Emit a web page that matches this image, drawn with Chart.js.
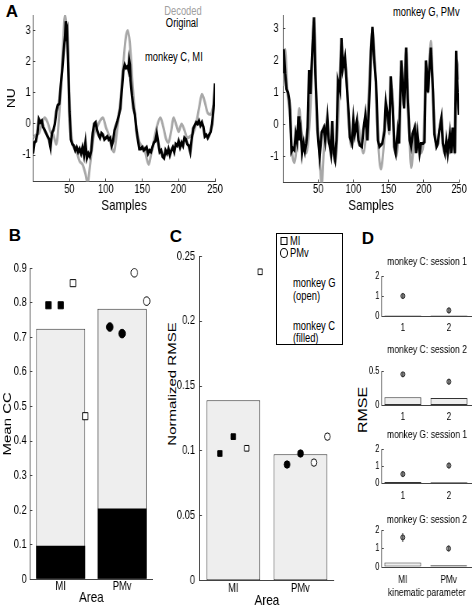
<!DOCTYPE html>
<html>
<head>
<meta charset="utf-8">
<title>Decoding performance</title>
<script src="https://cdn.jsdelivr.net/npm/chart.js@4.4.1/dist/chart.umd.min.js"></script>
<style>
  body { margin: 0; background: #fff; }
  #fig { position: relative; width: 476px; height: 612px; overflow: hidden;
         font-family: 'Liberation Sans', Arial, sans-serif; color: #000; }
  #fig canvas { position: absolute; }
  /* the whole figure is set in a horizontally condensed face, like the original */
  .lbl { position: absolute; white-space: nowrap; line-height: 1; font-size: 12px;
         transform: translate(-50%, -50%) scaleX(0.78); }
  .lft { transform-origin: 0 50%; transform: translate(0, -50%) scaleX(0.78); }
  .letter { position: absolute; font-weight: bold; font-size: 17px; line-height: 1; transform: translate(-50%, -50%); }
  #legendC { position: absolute; left: 276px; top: 233px; width: 67px; height: 112px;
             border: 1px solid #000; box-sizing: border-box; }
  .sq { position: absolute; width: 5px; height: 6px; border: 1px solid #000; transform: translate(-50%, -50%); }
  .ci { position: absolute; width: 6px; height: 8px; border: 1px solid #000; border-radius: 50%; transform: translate(-50%, -50%); }
</style>
</head>
<body>
<div id="fig">
  <div class="letter" style="left:12px;top:11px">A</div>
  <div class="letter" style="left:15px;top:235px">B</div>
  <div class="letter" style="left:176px;top:236px">C</div>
  <div class="letter" style="left:368px;top:238px">D</div>

  <div class="lbl" style="left:183px;top:11px;color:#a0a0a0">Decoded</div>
  <div class="lbl" style="left:182px;top:23px">Original</div>
  <div class="lbl lft" style="left:145px;top:57px">monkey C, MI</div>
  <div class="lbl lft" style="left:393px;top:12px">monkey G, PMv</div>

  <div id="legendC">
    <div class="sq" style="left:7px;top:7px"></div>
    <div class="lbl lft" style="left:13px;top:7px">MI</div>
    <div class="ci" style="left:7px;top:19px"></div>
    <div class="lbl lft" style="left:13px;top:19px">PMv</div>
    <div class="lbl lft" style="left:16px;top:49px">monkey G</div>
    <div class="lbl lft" style="left:16px;top:62px">(open)</div>
    <div class="lbl lft" style="left:16px;top:92px">monkey C</div>
    <div class="lbl lft" style="left:16px;top:104px">(filled)</div>
  </div>

  <div class="lbl" style="left:172px;top:384px;font-size:15px;transform:translate(-50%,-50%) scaleX(0.78) rotate(-90deg)">Normalized RMSE</div>
  <div class="lbl" style="left:363px;top:410px;font-size:16px;transform:translate(-50%,-50%) scaleX(0.78) rotate(-90deg)">RMSE</div>
</div>

<script>
// ---------- data ----------
// panel A: original (black) and decoded (gray) trajectories, [sample, NU]
const origC = [[0,-0.95],[2,-0.6],[4,-0.55],[6,-0.3],[8,0.15],[10,0.05],[12,0.1],[14,-0.1],[16,-0.2],[18,-0.3],
  [20,-0.4],[22,-0.5],[24,-0.75],[26,-0.3],[28,-0.2],[30,0.0],[32,0.4],[34,0.6],[36,0.65],[38,1.2],[40,1.7],
  [42,2.3],[44,2.8],[45,3.3],[46,2.9],[47,3.0],[48,2.2],[50,0.4],[52,-0.5],[54,-0.65],[56,-0.7],[58,-0.85],
  [60,-0.75],[62,-0.9],[64,-0.8],[66,-0.95],[68,-0.75],[70,-1.0],[72,-0.6],[74,-1.1],[76,-0.95],[78,-1.05],
  [80,-0.85],[82,-0.3],[84,0.0],[86,0.05],[88,-0.2],[90,-0.35],[92,-0.45],[94,-0.3],[96,-0.35],[98,-0.5],
  [100,-0.45],[102,-0.4],[104,-0.5],[106,-0.45],[108,-0.7],[110,-0.55],[112,-0.2],[114,-0.05],[116,0.1],
  [118,0.3],[120,0.5],[122,1.1],[124,1.7],[126,1.9],[128,1.8],[130,1.85],[131,1.75],[132,2.05],[133,1.9],
  [134,1.4],[136,0.9],[138,0.5],[140,0.3],[142,-0.2],[144,-0.5],[146,-0.8],[148,-0.8],[150,-0.75],[152,-0.85],
  [154,-0.8],[156,-0.75],[158,-0.95],[160,-0.85],[162,-0.9],[164,-0.75],[166,-0.6],[168,-0.55],[170,-0.3],
  [172,-0.6],[174,-0.9],[176,-0.85],[178,-1.05],[180,-1.1],[182,-0.85],[184,-0.95],[186,-0.8],[188,-1.0],
  [190,-0.85],[192,-0.75],[194,-0.9],[196,-0.65],[198,-0.7],[200,-0.55],[202,-0.75],[204,-0.6],[206,-0.7],
  [208,-0.45],[210,-0.5],[212,-0.65],[214,-0.7],[216,-0.9],[218,-0.5],[220,-0.15],[222,-0.05],[224,0.05],
  [226,0.0],[228,0.1],[230,-0.05],[232,0.05],[234,-0.1],[236,-0.4],[238,-0.35],[240,-0.45],[242,-0.35],
  [244,-0.25],[246,0.0],[248,0.5],[250,1.3]];
const decC = [[0,-0.45],[4,-0.35],[8,-0.3],[12,0.0],[16,0.2],[20,0.05],[24,-0.25],[28,-0.35],[32,-0.65],
  [36,0.3],[40,1.9],[44,3.5],[48,2.2],[52,-0.2],[56,-0.75],[60,-0.9],[64,-1.2],[68,-1.3],[72,-1.6],[75,-1.9],
  [78,-1.4],[81,-0.8],[84,-0.3],[88,-0.1],[92,0.1],[96,0.2],[100,-0.1],[104,-0.35],[108,-0.75],[111,-0.9],
  [115,-0.3],[119,0.5],[123,1.6],[127,2.7],[130,3.0],[133,2.6],[137,1.2],[141,0.1],[145,-0.5],[149,-0.7],
  [153,-0.8],[156,-1.1],[159,-1.3],[162,-1.0],[166,-0.55],[170,-0.1],[175,0.2],[179,-0.1],[183,-0.5],
  [186,-0.6],[190,-0.2],[193,0.2],[197,-0.05],[200,-0.25],[204,0.0],[208,-0.2],[212,-0.45],[216,-0.4],
  [220,-0.3],[224,0.0],[228,0.5],[232,0.95],[236,0.7],[240,0.35],[244,0.3],[248,0.6]];
const origG = [[0,1.6],[1,2.35],[3,1.6],[5,1.1],[7,1.0],[9,0.75],[10,0.45],[12,-0.85],[14,-0.75],[16,-0.8],
  [18,-0.3],[20,-0.55],[22,0.25],[23,-0.5],[25,-0.2],[27,-0.9],[29,-0.6],[31,-0.85],[33,-0.6],[35,-0.1],
  [37,1.7],[39,0.95],[42,2.5],[44,3.35],[46,1.55],[49,-0.2],[52,-1.0],[55,-0.25],[58,-0.1],[60,-0.5],
  [63,0.2],[65,-0.5],[68,-0.9],[70,0.1],[72,-0.9],[74,-1.1],[76,-0.5],[78,1.35],[81,1.05],[83,2.7],
  [85,1.75],[88,2.1],[90,1.45],[93,0.4],[95,-0.4],[98,-0.6],[100,0.15],[102,-0.3],[105,0.1],[107,-0.5],
  [109,-0.65],[112,-0.7],[114,-0.2],[117,0.3],[120,-0.5],[122,0.5],[125,2.3],[127,3.05],[129,2.2],[132,1.35],
  [135,-0.5],[137,-0.7],[141,-0.6],[144,-0.2],[146,0.7],[148,0.4],[151,-0.2],[153,1.5],[156,0.5],[158,-0.7],
  [160,-0.9],[163,-0.2],[165,-0.6],[168,2.0],[170,1.2],[172,0.5],[175,2.4],[177,0.8],[180,-0.5],[182,-0.7],
  [184,-0.3],[187,-0.1],[189,-0.9],[191,-0.3],[194,-0.9],[196,-0.6],[199,-0.6],[201,-0.55],[203,2.0],
  [206,1.0],[208,1.8],[210,2.4],[213,1.0],[215,-0.3],[218,-0.7],[220,-0.6],[222,-0.2],[225,0.2],[227,-0.6],
  [230,-0.9],[232,-0.5],[234,-0.9],[237,-0.3],[239,-0.9],[241,-0.1],[244,-0.9],[246,2.3],[248,1.0],[250,0.3]];
const decG = [[0,1.2],[3,2.35],[6,1.1],[10,0.2],[13,-0.9],[16,-1.2],[20,-0.5],[23,0.5],[26,-0.2],[30,-0.5],
  [33,-0.9],[36,-0.5],[40,1.0],[44,3.2],[48,0.5],[52,-1.0],[55,-1.9],[58,-0.8],[62,0.0],[65,-0.6],[68,-0.5],
  [71,-0.9],[74,-1.2],[78,0.0],[83,2.5],[86,1.9],[89,1.8],[93,0.2],[97,-0.7],[102,-0.2],[106,0.1],[110,-0.5],
  [114,-0.9],[118,-0.3],[122,1.0],[127,3.0],[131,1.6],[135,-0.5],[139,-1.4],[143,-0.7],[147,0.5],[151,-0.3],
  [154,1.2],[158,-0.5],[161,-1.0],[164,-0.3],[168,1.8],[171,0.6],[175,2.3],[179,0.0],[182,-1.35],[185,-0.8],
  [188,0.0],[191,-0.6],[195,-0.9],[199,-0.7],[203,1.7],[206,1.0],[210,2.6],[214,0.5],[218,-0.7],[222,-0.2],
  [225,0.2],[229,-0.9],[233,-0.5],[237,-0.9],[241,-0.2],[244,-0.9],[247,2.0],[250,1.4]];
const sampleTicks = [50, 100, 150, 200, 250];
const nuTicks = [-1, 0, 1, 2, 3];

// panels B and C
const areas = ['MI', 'PMv'];
const ccMean = [0.725, 0.783];
const ccChance = [0.097, 0.205];
const ccC = [[0.793, 0.793], [0.730, 0.711]];   // monkey C (filled), per area
const ccG = [[0.857, 0.472], [0.887, 0.805]];   // monkey G (open), per area
const ccTicks = [0, 0.1, 0.2, 0.3, 0.4, 0.5, 0.6, 0.7, 0.8, 0.9];
const rmseMean = [0.139, 0.0975];
const rmseC = [[0.098, 0.111], [0.0895, 0.098]];
const rmseG = [[0.102, 0.238], [0.091, 0.111]];
const rmseTicks = [0, 0.05, 0.1, 0.15, 0.2, 0.25];

// panel D
const dTitles = ['monkey C: session 1', 'monkey C: session 2', 'monkey G: session 1', 'monkey G: session 2'];
const dBars = [[0.05, 0.05], [0.12, 0.11], [0.09, 0.07], [0.24, 0.10]];
const dPoints = [[1.0, 0.28], [0.46, 0.35], [0.55, 1.05], [1.6, 1.0]];
const dMax = [2, 0.5, 2, 2];
const dTicks = [[0, 1, 2], [0, 0.5], [0, 1, 2], [0, 1, 2]];
const dCats = [['1', '2'], ['1', '2'], ['1', '2'], ['MI', 'PMv']];

// ---------- drawing ----------
const F = "'Liberation Sans', Arial, sans-serif";
const AX = '#444';
const SX = 0.78;   // horizontal squeeze of every canvas
Chart.defaults.font.family = F;
Chart.defaults.color = '#000';
Chart.defaults.animation = false;
Chart.defaults.plugins.legend.display = false;
Chart.defaults.plugins.tooltip.enabled = false;

function mount(L, T, W, H) {
  const c = document.createElement('canvas');
  const cw = Math.round(W / SX);
  c.width = cw; c.height = H;
  c.style.left = L + 'px'; c.style.top = T + 'px';
  c.style.width = W + 'px'; c.style.height = H + 'px';
  document.getElementById('fig').appendChild(c);
  return { ctx: c.getContext('2d'), k: cw / W };
}

function axis(o) {
  const s = {
    type: 'linear', min: o.min, max: o.max, offset: false,
    afterBuildTicks: sc => { sc.ticks = o.ticks.map(v => ({ value: v })); },
    border: { display: true, color: AX, width: 1 },
    grid: { display: true, drawOnChartArea: false, drawTicks: o.tl !== 0, tickLength: o.tl, color: AX, offset: false },
    ticks: { padding: o.pad, autoSkip: false, maxRotation: 0,
             font: { size: o.size }, color: '#000',
             callback: o.labels ? (v, i) => o.labels[i] : v => String(v) },
    title: o.title ? { display: true, text: o.title, color: '#000', font: { size: o.tsize || 12 },
                       padding: { top: o.tpad, bottom: o.tpad } } : { display: false }
  };
  if (o.w !== undefined) s.afterFit = sc => { sc.width = o.w; };
  if (o.h !== undefined) s.afterFit = sc => { sc.height = o.h; };
  return s;
}

const pts = (vals, center, offs) => vals.map((v, i) => ({ x: center + offs[i], y: v }));
const xy = arr => arr.map(p => ({ x: p[0], y: p[1] }));

function traceChart(m, orig, dec, geo) {
  const k = m.k;
  new Chart(m.ctx, {
    type: 'scatter',
    data: { datasets: [
      { data: xy(orig), showLine: true, pointRadius: 0, borderColor: '#000', borderWidth: 3.2 },
      { data: xy(dec), showLine: true, pointRadius: 0, borderColor: '#a8a8a8', borderWidth: 3,
        cubicInterpolationMode: 'monotone' }
    ]},
    options: {
      responsive: false,
      layout: { padding: { top: geo.top, right: geo.right * k, left: 0, bottom: 0 } },
      scales: {
        x: axis({ min: 0, max: 250, ticks: sampleTicks, h: geo.h, pad: geo.xpad, tl: -3, size: 12,
                  title: 'Samples', tsize: 15, tpad: 1 }),
        y: axis({ min: geo.ymin, max: geo.ymax, ticks: nuTicks, w: geo.w * k, pad: 3 + geo.gap * k, tl: -3,
                  size: 12, title: geo.ytitle, tsize: 14, tpad: 12 * k - 8.4 })
      }
    }
  });
}

traceChart(mount(0, 0, 236, 216), origC, decC,
  { top: 15, right: 21, h: 34.5, w: 33, xpad: 3.8, gap: 2.3, ymin: -1.85, ymax: 3.5, ytitle: 'NU' });
traceChart(mount(240, 0, 236, 216), origG, decG,
  { top: 14, right: 17, h: 33.5, w: 43, xpad: 2.8, gap: 4.3, ymin: -1.82, ymax: 3.4, ytitle: null });

const jitC = [-0.2, 0], jitG = [0.2, 0.4];

function summaryChart(m, o) {
  const k = m.k;
  const marker = (vals, i, style, fill, r) => ({
    type: 'line', showLine: false, data: pts(vals, i + 1, fill === '#000' ? jitC : jitG),
    pointStyle: style, pointRadius: r, backgroundColor: fill, borderColor: '#000', borderWidth: 1
  });
  const datasets = [];
  areas.forEach((a, i) => {
    const style = i === 0 ? 'rect' : 'circle';
    const r = i === 0 ? o.sq : o.ci;
    datasets.push(marker(o.cVals[i], i, style, '#000', r));
    datasets.push(marker(o.gVals[i], i, style, '#fff', r));
  });
  if (o.chance) {
    datasets.push({ data: o.chance.map((v, i) => ({ x: i + 1, y: v })), backgroundColor: '#000',
                    borderWidth: 0, grouped: false, barPercentage: 0.8, categoryPercentage: 1 });
  }
  datasets.push({ data: o.mean.map((v, i) => ({ x: i + 1, y: v })), backgroundColor: '#eeeeee',
                  borderColor: '#333', borderWidth: 1, borderSkipped: false,
                  grouped: false, barPercentage: 0.8, categoryPercentage: 1 });
  new Chart(m.ctx, {
    type: 'bar',
    data: { datasets },
    options: {
      responsive: false,
      layout: { padding: { top: o.top, right: o.right * k, left: 0, bottom: 0 } },
      scales: {
        x: axis({ min: 0.5, max: 2.5, ticks: [1, 2], labels: areas, h: o.h, pad: o.xpad, tl: 0, size: 12,
                  title: 'Area', tsize: 15, tpad: o.xtpad }),
        y: axis({ min: 0, max: o.max, ticks: o.ticks, w: o.w * k, pad: 3 + o.gap * k, tl: -3, size: 12,
                  title: o.ytitle, tsize: 15, tpad: o.ytx * k - 9 })
      }
    }
  });
}

summaryChart(mount(0, 240, 160, 372), {
  cVals: ccC, gVals: ccG, mean: ccMean, chance: ccChance, ticks: ccTicks, max: 0.9,
  sq: 5, ci: 4.3, top: 28.3, right: 7.25, h: 32.7, w: 30, xpad: 0.5, xtpad: 5, gap: 3.3,
  ytitle: 'Mean CC', ytx: 8
});
summaryChart(mount(160, 240, 182, 372), {
  cVals: rmseC, gVals: rmseG, mean: rmseMean, chance: null, ticks: rmseTicks, max: 0.25,
  sq: 4, ci: 3.7, top: 15.7, right: 7.9, h: 31.3, w: 39.7, xpad: 0.4, xtpad: 2.5, gap: 4.7,
  ytitle: null, ytx: 0
});

// panel D, four stacked subplots
const dTop = [255, 343, 428, 513];
const dH = [79, 81, 74, 92];
const dTitlePad = [7.8, 15.3, 8.1, 3.8];
const dXH = [18, 18.5, 18.5, 38];
const dXPad = [6, 5.5, 5.9, 6.7];

dTitles.forEach((t, n) => {
  const last = n === dTitles.length - 1;
  const m = mount(340, dTop[n], 136, dH[n]);
  const at = dPoints[n].map((v, i) => ({ x: i + 1, y: v }));
  new Chart(m.ctx, {
    type: 'bar',
    data: { datasets: [
      { type: 'line', showLine: false, data: at, pointStyle: 'line', pointRotation: 90,
        pointRadius: n === 3 ? [4.5, 3] : 3, borderColor: '#333', borderWidth: 1.2 },
      { type: 'line', showLine: false, data: at, pointStyle: 'circle', pointRadius: 2.6,
        backgroundColor: '#9a9a9a', borderColor: '#333', borderWidth: 1 },
      { data: dBars[n].map((v, i) => ({ x: i + 1, y: v })), backgroundColor: '#eeeeee',
        borderColor: '#333', borderWidth: 1, borderSkipped: false, barPercentage: 0.8, categoryPercentage: 1 }
    ]},
    options: {
      responsive: false,
      layout: { padding: { top: 0, right: 1.2 * m.k, left: 0, bottom: 0 } },
      plugins: {
        title: { display: true, fullSize: false, text: t, color: '#000', font: { size: 11, weight: 'normal' },
                 padding: { top: 0, bottom: dTitlePad[n] } }
      },
      scales: {
        x: axis({ min: 0.55, max: 2.5, ticks: [1, 2], labels: dCats[n], h: dXH[n], pad: dXPad[n], tl: 0,
                  size: 10.5, title: last ? 'kinematic parameter' : null, tsize: 11, tpad: 5.1 }),
        y: axis({ min: 0, max: dMax[n], ticks: dTicks[n], w: 42.1 * m.k, pad: 2 + 2.6 * m.k, tl: -2, size: 10 })
      }
    }
  });
});
</script>
</body>
</html>
